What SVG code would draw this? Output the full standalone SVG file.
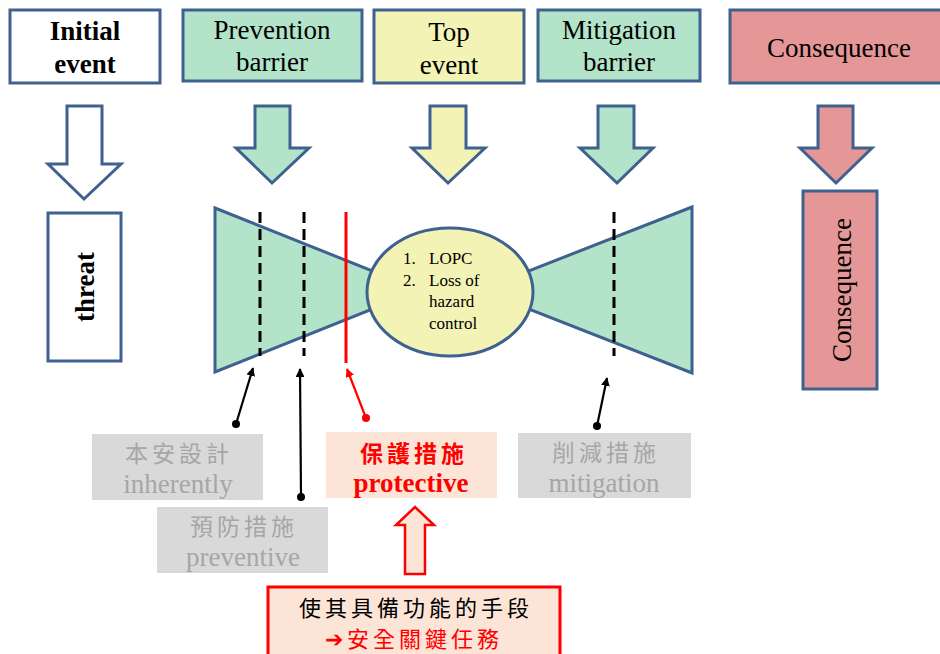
<svg xmlns="http://www.w3.org/2000/svg" width="940" height="654" viewBox="0 0 940 654">
<style>
.box{stroke:#3E6190;stroke-width:3}
.w{fill:#FFFFFF}.g{fill:#B3E3C8}.y{fill:#F4F3B6}.r{fill:#E59797}
.t{font-family:"Liberation Serif",serif;font-size:27px;fill:#000;text-anchor:middle}
.b{font-weight:bold}
.red{fill:#FF0000}
.dash{stroke:#000;stroke-width:3;stroke-dasharray:11 6;fill:none}
.lbl{fill:#D9D9D9}
.gt{font-family:"Liberation Serif",serif;font-size:27px;fill:#A6A6A6;text-anchor:middle}
.cj{font-family:"Noto Sans CJK TC","Noto Sans CJK SC",sans-serif;font-size:23px;letter-spacing:4px;text-anchor:middle}
.ptr{stroke:#000;stroke-width:2.2;fill:none}
</style>
<defs>
<marker id="ah" viewBox="0 0 10 10" refX="9" refY="5" markerWidth="4" markerHeight="4" orient="auto"><path d="M0,0L10,5L0,10z" fill="#000"/></marker>
<marker id="ahr" viewBox="0 0 10 10" refX="9" refY="5" markerWidth="4" markerHeight="4" orient="auto"><path d="M0,0L10,5L0,10z" fill="#FF0000"/></marker>
</defs>

<g id="initial-event">
<rect class="box w" x="10" y="10" width="150" height="73"/>
<text class="t b" x="85" y="40">Initial</text>
<text class="t b" x="85" y="73">event</text>
<path class="box w" d="M67,106H102V164H121L84,199L48,164H67Z"/>
</g>
<g id="prevention-barrier">
<rect class="box g" x="183" y="10" width="179" height="71"/>
<text class="t" x="272" y="39">Prevention</text>
<text class="t" x="272" y="71">barrier</text>
<path class="box g" d="M255,106H290V148H309L272,183L236,148H255Z"/>
</g>
<g id="top-event">
<rect class="box y" x="374" y="10" width="150" height="73"/>
<text class="t" x="449" y="41">Top</text>
<text class="t" x="449" y="74">event</text>
<path class="box y" d="M430,106H466V148H485L448,183L412,148H430Z"/>
</g>
<g id="mitigation-barrier">
<rect class="box g" x="538" y="10" width="162" height="71"/>
<text class="t" x="619" y="39">Mitigation</text>
<text class="t" x="619" y="71">barrier</text>
<path class="box g" d="M598,106H634V148H653L617,183L580,148H598Z"/>
</g>
<g id="consequence">
<rect class="box r" x="730" y="10" width="220" height="73"/>
<text class="t" x="839" y="57">Consequence</text>
<path class="box r" d="M818,106H853V148H872L836,183L800,148H818Z"/>
</g>

<g id="threat">
<rect class="box w" x="48" y="213" width="73" height="148"/>
<text class="t b" transform="translate(94,287) rotate(-90)">threat</text>
</g>
<g id="consequence-v">
<rect class="box r" x="803" y="191" width="74" height="198"/>
<text class="t" transform="translate(851,290) rotate(-90)">Consequence</text>
</g>

<g id="bowtie">
<polygon class="box g" points="215,208 420,290 215,372"/>
<polygon class="box g" points="692,207 480,290 692,373"/>
<ellipse class="box y" cx="450" cy="292" rx="83" ry="64"/>
<g font-family="Liberation Serif,serif" font-size="17" fill="#000">
<text x="403" y="264">1.</text><text x="429" y="264">LOPC</text>
<text x="403" y="286">2.</text><text x="429" y="286">Loss of</text>
<text x="429" y="307">hazard</text>
<text x="429" y="329">control</text>
</g>
</g>

<g id="barrier-lines">
<line class="dash" x1="260" y1="212" x2="260" y2="356"/>
<line class="dash" x1="304" y1="212" x2="304" y2="356"/>
<line x1="346" y1="212" x2="346" y2="363" stroke="#FF0000" stroke-width="3"/>
<line class="dash" x1="614" y1="212" x2="614" y2="356"/>
</g>

<g id="inherently">
<rect class="lbl" x="92" y="434" width="171" height="66"/>
<text class="cj" x="179" y="462" fill="#A6A6A6">本安設計</text>
<text class="gt" x="178" y="493">inherently</text>
</g>
<g id="preventive">
<rect class="lbl" x="157" y="507" width="171" height="66"/>
<text class="cj" x="244" y="535" fill="#A6A6A6">預防措施</text>
<text class="gt" x="243" y="566">preventive</text>
</g>
<g id="protective">
<rect x="326" y="432" width="171" height="66" fill="#FCE4D6"/>
<text class="cj red" x="414" y="462" font-weight="bold">保護措施</text>
<text class="t b red" x="411" y="492">protective</text>
</g>
<g id="mitigation">
<rect class="lbl" x="518" y="433" width="173" height="65"/>
<text class="cj" x="606" y="461" fill="#A6A6A6">削減措施</text>
<text class="gt" x="604" y="492">mitigation</text>
</g>
<g id="safety-critical">
<path d="M405,574V525H396L415,507L434,525H425V574Z" fill="#FCE4D6" stroke="#FF0000" stroke-width="2.5"/>
<rect x="268" y="587" width="292" height="90" fill="#FCE4D6" stroke="#FF0000" stroke-width="3"/>
<text class="cj" x="416" y="616" font-size="22" style="font-size:22px" fill="#000">使其具備功能的手段</text>
<text class="cj red" x="414" y="647" style="font-size:22px">➔安全關鍵任務</text>
</g>

<g id="connectors">
<line class="ptr" x1="236" y1="424" x2="253" y2="368" marker-end="url(#ah)"/>
<circle cx="236" cy="424" r="4"/>
<line class="ptr" x1="301" y1="497" x2="300" y2="369" marker-end="url(#ah)"/>
<circle cx="301" cy="497" r="4"/>
<line x1="366" y1="418" x2="347" y2="369" stroke="#FF0000" stroke-width="2.2" marker-end="url(#ahr)"/>
<circle cx="366" cy="418" r="4" fill="#FF0000"/>
<line class="ptr" x1="597" y1="426" x2="607" y2="378" marker-end="url(#ah)"/>
<circle cx="597" cy="426" r="4"/>
</g>
</svg>
